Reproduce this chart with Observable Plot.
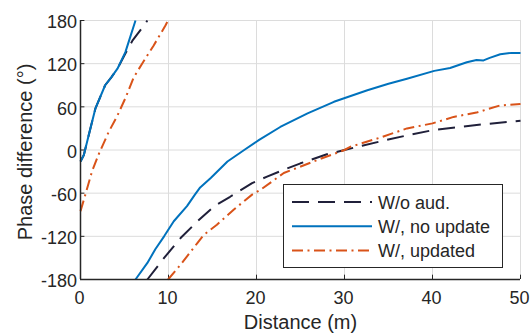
<!DOCTYPE html>
<html>
<head>
<meta charset="utf-8">
<script src="https://cdn.jsdelivr.net/npm/d3@7"></script>
<script src="https://cdn.jsdelivr.net/npm/@observablehq/plot@0.6"></script>
<style>
  html, body { margin: 0; padding: 0; background: #fff; }
  #chart svg { display: block; }
</style>
</head>
<body>
<div id="chart"></div>
<script>
// ---- Data (null marks a phase wrap) ----
const seriesNames = ["W/o aud.", "W/, no update", "W/, updated"];

const noAudX = [0, 0.38, 0.94, 1.7, 2.8, 3.5, 4.2, 5.1, 5.9, 6.9, 7.6, null,
  7.6, 9.5, 11.4, 13.3, 15.2, 17.0, 19.5, 21.2, 23, 25, 26.1, 28, 30, 32, 34.8, 37, 40.2, 43, 46, 50];
const noAudY = [-16, -7, 21, 58, 90, 101, 113, 134, 152, 168, 180, null,
  -180, -150, -122, -99, -78, -65, -46, -37, -28, -18.5, -14, -6, 0, 6, 14, 20, 28, 32, 36, 40.6];

const noUpdX = [0, 0.38, 0.94, 1.7, 2.8, 3.5, 4.2, 5.1, 5.7, 6.25, null,
  6.25, 7.6, 8.5, 9.5, 10.6, 12.1, 13.0, 13.6, 14.8, 16.7, 18.6, 20.3, 22.7, 25.8, 28.8, 32.6, 35, 37.1, 40.2, 42, 43.9, 45, 45.8, 46.5, 47.7, 49, 50];
const noUpdY = [-16, -7, 21, 58, 90, 101, 113, 136, 159, 180, null,
  -180, -157, -138, -120, -99, -78, -62, -52, -39, -16, 0, 14, 32, 51, 67, 83, 92, 99, 110, 114, 122, 125, 124.5, 128, 133, 135, 135];

const updX = [0, 0.6, 1.3, 2.1, 3.2, 4.2, 5.1, 6.05, 7.0, 8.3, 9.65, 9.95, null,
  9.95, 11.4, 13.3, 14.0, 15.5, 17.4, 19.5, 20.5, 23.1, 26.9, 30, 30.7, 34, 37.1, 40, 42.4, 45, 47.7, 50];
const updY = [-85, -60, -30, -5, 25, 48, 72, 101, 120, 145, 173, 180, null,
  -180, -159, -129, -118, -104, -83, -62, -55, -32, -14, 0, 4.6, 17, 30, 37, 46, 52, 62, 64];

const xTicks = [0, 10, 20, 30, 40, 50];
const yTicks = [-180, -120, -60, 0, 60, 120, 180];
const xLabel = "Distance (m)";
const yLabel = "Phase difference (°)";

const colors = ["#20203a", "#0072BD", "#D95319"];
const dashes = ["17,9", null, "11,4.5,2,4.5"];

function rows(xs, ys) {
  return xs.map((x, i) => ({x, y: ys[i]}));
}
const tables = [rows(noAudX, noAudY), rows(noUpdX, noUpdY), rows(updX, updY)];

const font = "'Liberation Sans', Arial, Helvetica, sans-serif";
const ink = "#262626";

const chart = Plot.plot({
  width: 531,
  height: 333,
  marginLeft: 80,
  marginRight: 11,
  marginTop: 20,
  marginBottom: 54,
  style: {fontFamily: font, fontSize: "18px", color: ink, background: "#fff"},
  x: {domain: [0, 50]},
  y: {domain: [-180, 180]},
  marks: [
    Plot.gridX(xTicks, {stroke: "#dcdcdc", strokeOpacity: 1, strokeWidth: 1}),
    Plot.gridY(yTicks, {stroke: "#dcdcdc", strokeOpacity: 1, strokeWidth: 1}),
    Plot.axisX(xTicks, {tickSize: 0, tickPadding: 12, fontSize: 18, label: null, tickFormat: d => String(d), fill: ink, dx: -1}),
    Plot.axisY(yTicks, {tickSize: 0, tickPadding: 3.5, fontSize: 18, label: null, tickFormat: d => String(d), fill: ink, dy: 2}),
    Plot.ruleX(xTicks, {x: d => d, y1: -180, y2: -174, stroke: ink, strokeWidth: 1}),
    Plot.ruleY(yTicks, {y: d => d, x1: 0, x2: 0.5, stroke: ink, strokeWidth: 1}),
    ...tables.map((t, i) => Plot.line(t, {
      x: "x", y: "y",
      stroke: colors[i],
      strokeWidth: 2,
      strokeDasharray: dashes[i] || undefined,
      strokeLinecap: "butt",
      strokeLinejoin: "round",
      curve: "linear"
    })),
    Plot.ruleX([0], {stroke: ink, strokeWidth: 1.5}),
    Plot.ruleY([-180], {stroke: ink, strokeWidth: 1.5})
  ]
});

const svg = d3.select(chart);

// ---- Axis titles ----
svg.append("text")
  .attr("x", 300.5).attr("y", 328.5)
  .attr("text-anchor", "middle")
  .attr("font-family", font).attr("font-size", 20).attr("fill", ink)
  .text(xLabel);
svg.append("text")
  .attr("transform", "translate(31.5,152) rotate(-90)")
  .attr("text-anchor", "middle")
  .attr("font-family", font).attr("font-size", 20).attr("fill", ink)
  .text(yLabel);

// ---- Legend ----
const lg = svg.append("g").attr("font-family", font).attr("font-size", 18).attr("text-anchor", "start");
lg.append("rect")
  .attr("x", 283.5).attr("y", 184.5).attr("width", 219).attr("height", 83)
  .attr("fill", "#fff").attr("stroke", ink).attr("stroke-width", 1);
seriesNames.forEach((name, i) => {
  const yb = 209 + i * 24.2;
  const ly = yb - 7;
  const ln = lg.append("line")
    .attr("x1", 292).attr("x2", 372).attr("y1", ly).attr("y2", ly)
    .attr("stroke", colors[i]).attr("stroke-width", 2).attr("stroke-linecap", "butt");
  if (dashes[i]) ln.attr("stroke-dasharray", dashes[i]);
  lg.append("text").attr("x", 378).attr("y", yb).attr("text-anchor", "start").attr("fill", ink).text(name);
});

document.getElementById("chart").appendChild(chart);
</script>
</body>
</html>
